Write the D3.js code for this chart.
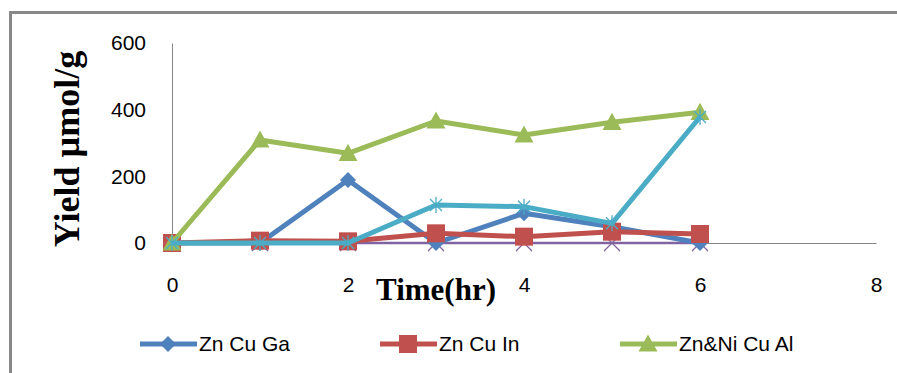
<!DOCTYPE html>
<html>
<head>
<meta charset="utf-8">
<script src="https://cdn.jsdelivr.net/npm/d3@7"></script>
<style>
  body { margin: 0; background: #fff; }
  svg { display: block; }
</style>
</head>
<body>
<div id="chart"></div>
<script>
// data
const times = [0, 1, 2, 3, 4, 5, 6];
const znCuGa = [0, 0, 189, 0, 89, 49, 0];
const znCuIn = [0, 7, 5, 29, 19, 34, 27];
const znNiCuAl = [0, 309, 269, 366, 324, 362, 392];
const series4 = [0, 0, 0, 0, 0, 0, 0];
const series5 = [0, 0, 0, 114, 109, 59, 378];
const xTicks = [0, 2, 4, 6, 8];
const yTicks = [0, 200, 400, 600];

const width = 897, height = 373;

// marker shapes
function diamond(s) { return `M0,${-s}L${s},0L0,${s}L${-s},0Z`; }
function square(s) { return `M${-s},${-s}H${s}V${s}H${-s}Z`; }
function triangle(s) { return `M0,${-s}L${s},${s * 0.8}H${-s}Z`; }
function star(s) { return `M0,${-s}V${s}M${-s * 0.75},${-s * 0.75}L${s * 0.75},${s * 0.75}M${s * 0.75},${-s * 0.75}L${-s * 0.75},${s * 0.75}`; }
function cross(s) { return `M${-s},${-s}L${s},${s}M${s},${-s}L${-s},${s}`; }

// draw order: purple first, cyan last
const series = [
  { name: "Series4", values: series4, color: "#8064A2", lw: 2.5, marker: cross, ms: 8, filled: false, legend: false },
  { name: "Zn Cu Ga", values: znCuGa, color: "#4F81BD", lw: 5, marker: diamond, ms: 8, filled: true, legend: true },
  { name: "Zn Cu In", values: znCuIn, color: "#C0504D", lw: 5, marker: square, ms: 9, filled: true, legend: true },
  { name: "Zn&Ni Cu Al", values: znNiCuAl, color: "#9BBB59", lw: 5, marker: triangle, ms: 9.5, filled: true, legend: true },
  { name: "Series5", values: series5, color: "#4BACC6", lw: 5, marker: star, ms: 8, filled: false, legend: false }
];

const svg = d3.select("#chart").append("svg")
  .attr("width", width)
  .attr("height", height);

// outer frame (top and left edges only visible)
svg.append("path")
  .attr("d", "M10.5,373V12.5H897")
  .attr("fill", "none")
  .attr("stroke", "#888")
  .attr("stroke-width", 3);

const x = d3.scaleLinear().domain([0, 8]).range([172, 876]);
const y = d3.scaleLinear().domain([0, 600]).range([243, 43]);

// axes
const yAxis = svg.append("g")
  .attr("transform", `translate(${x(0)},0)`)
  .call(d3.axisLeft(y).tickValues(yTicks).tickSize(0).tickPadding(26));
const xAxis = svg.append("g")
  .attr("transform", `translate(0,${y(0)})`)
  .call(d3.axisBottom(x).tickValues(xTicks).tickSize(0).tickPadding(34));

[yAxis, xAxis].forEach(g => {
  g.select(".domain").attr("stroke", "#868686").attr("stroke-width", 1);
  g.selectAll("text")
    .attr("font-family", "Liberation Sans, Arial, sans-serif")
    .attr("font-size", 21)
    .attr("fill", "#000");
});

// axis titles
svg.append("text")
  .attr("transform", `translate(79,149) rotate(-90)`)
  .attr("text-anchor", "middle")
  .attr("font-family", "Liberation Serif, Times New Roman, serif")
  .attr("font-weight", "bold")
  .attr("font-size", 36)
  .text("Yield µmol/g");

svg.append("text")
  .attr("x", 436)
  .attr("y", 300)
  .attr("text-anchor", "middle")
  .attr("font-family", "Liberation Serif, Times New Roman, serif")
  .attr("font-weight", "bold")
  .attr("font-size", 31)
  .text("Time(hr)");

const line = d3.line()
  .x((d, i) => x(times[i]))
  .y(d => y(d));

series.forEach(s => {
  const g = svg.append("g");
  g.append("path")
    .datum(s.values)
    .attr("d", line)
    .attr("fill", "none")
    .attr("stroke", s.color)
    .attr("stroke-width", s.lw)
    .attr("stroke-linejoin", "round");
  g.selectAll(".mk")
    .data(s.values)
    .enter()
    .append("path")
    .attr("class", "mk")
    .attr("transform", (d, i) => `translate(${x(times[i])},${y(d)})`)
    .attr("d", s.marker(s.ms))
    .attr("fill", s.filled ? s.color : "none")
    .attr("stroke", s.color)
    .attr("stroke-width", s.filled ? 0 : 1.3);
});

// legend (only the three named series)
const legend = svg.append("g")
  .selectAll("g")
  .data(series.filter(s => s.legend))
  .enter()
  .append("g")
  .attr("transform", (d, i) => `translate(${140 + i * 240},344)`);

legend.append("line")
  .attr("x1", 0).attr("x2", 57)
  .attr("stroke", d => d.color)
  .attr("stroke-width", 5);
legend.append("path")
  .attr("transform", "translate(28,0)")
  .attr("d", d => d.marker(d.ms))
  .attr("fill", d => d.color);
legend.append("text")
  .attr("x", 59)
  .attr("dy", "0.35em")
  .attr("font-family", "Liberation Sans, Arial, sans-serif")
  .attr("font-size", 21)
  .text(d => d.name);
</script>
</body>
</html>
